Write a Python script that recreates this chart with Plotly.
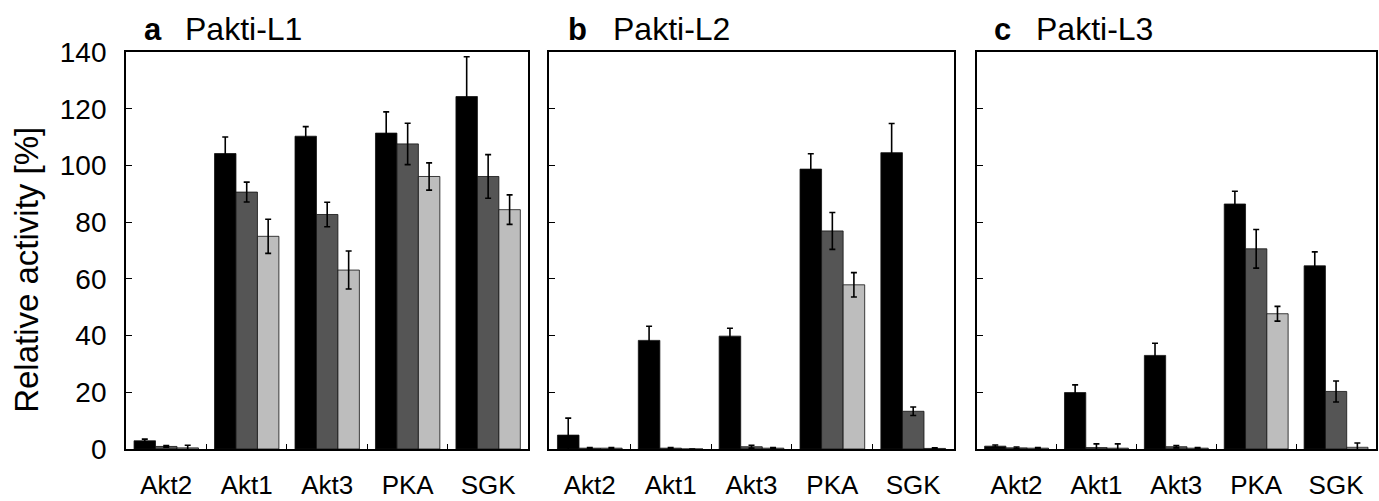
import plotly.graph_objects as go

# Kinase panel, shared by all three inhibitor panels
kinases = ["Akt2", "Akt1", "Akt3", "PKA", "SGK"]
y_ticks = [0, 20, 40, 60, 80, 100, 120, 140]

# Relative activity [%] at three inhibitor concentrations (low / mid / high)
l1_low = [2.9, 104.2, 110.3, 111.4, 124.3]
l1_mid = [0.9, 90.6, 82.7, 107.6, 96.1]
l1_high = [0.4, 75.0, 63.1, 96.1, 84.4]
l1_low_err = [0.6, 5.8, 3.4, 7.5, 14.0]
l1_mid_err = [0.3, 3.5, 4.3, 7.3, 7.7]
l1_high_err = [0.9, 6.0, 6.7, 4.8, 5.2]

l2_low = [4.9, 38.3, 39.8, 98.7, 104.5]
l2_mid = [0.3, 0.3, 0.8, 76.9, 13.3]
l2_high = [0.3, 0.0, 0.3, 57.9, 0.2]
l2_low_err = [6.0, 5.0, 2.8, 5.4, 10.3]
l2_mid_err = [0.2, 0.2, 0.5, 6.5, 1.5]
l2_high_err = [0.2, 0.0, 0.2, 4.3, 0.2]

l3_low = [1.0, 19.9, 33.0, 86.4, 64.6]
l3_mid = [0.4, 0.5, 0.8, 70.6, 20.3]
l3_high = [0.3, 0.3, 0.3, 47.7, 0.6]
l3_low_err = [0.4, 2.7, 4.3, 4.5, 4.9]
l3_mid_err = [0.3, 1.3, 0.4, 6.8, 3.7]
l3_high_err = [0.2, 1.5, 0.2, 2.6, 1.5]

panel_letters = ["a", "b", "c"]
panel_names = ["Pakti-L1", "Pakti-L2", "Pakti-L3"]

bar_colors = ["#000000", "#555555", "#bdbdbd"]
FONT = "Liberation Sans, Arial, sans-serif"

panels = [
    ([l1_low, l1_mid, l1_high], [l1_low_err, l1_mid_err, l1_high_err]),
    ([l2_low, l2_mid, l2_high], [l2_low_err, l2_mid_err, l2_high_err]),
    ([l3_low, l3_mid, l3_high], [l3_low_err, l3_mid_err, l3_high_err]),
]

domains = [[0.0, 0.3219], [0.3387, 0.6621], [0.6805, 1.0]]

fig = go.Figure()

for i, (series, errors) in enumerate(panels):
    suffix = "" if i == 0 else str(i + 1)
    for vals, errs, color in zip(series, errors, bar_colors):
        fig.add_trace(go.Bar(
            x=kinases, y=vals,
            xaxis="x" + suffix, yaxis="y" + suffix,
            marker=dict(color=color, line=dict(color="#111111", width=0.8)),
            error_y=dict(type="data", array=errs, visible=True,
                         color="#000000", thickness=1.6, width=3),
            showlegend=False,
        ))

    axis_common = dict(showline=True, linecolor="#000000", linewidth=1.8,
                       mirror=True, showgrid=False, zeroline=False)
    fig.layout["xaxis" + suffix] = dict(
        domain=domains[i], anchor="y" + suffix,
        categoryorder="array", categoryarray=kinases,
        range=[-0.5, 4.5], tickson="boundaries",
        ticks="inside", ticklen=5, tickwidth=1.2, tickcolor="#000000",
        ticklabelstandoff=12,
        tickfont=dict(family=FONT, size=26, color="#000000"),
        **axis_common)
    fig.layout["yaxis" + suffix] = dict(
        domain=[0, 1], anchor="x" + suffix,
        range=[0, 140], tickvals=y_ticks,
        ticks="inside", ticklen=6, tickwidth=1.2, tickcolor="#000000",
        showticklabels=(i == 0), ticklabelstandoff=12,
        tickfont=dict(family=FONT, size=28, color="#000000"),
        **axis_common)

    fig.add_annotation(
        xref="x%s domain" % suffix, yref="paper",
        x=[0.040, 0.042, 0.038][i], y=1.057,
        xanchor="left", yanchor="middle", showarrow=False,
        text="<b>%s</b>" % panel_letters[i],
        font=dict(family=FONT, size=31, color="#000000"))
    fig.add_annotation(
        xref="x%s domain" % suffix, yref="paper",
        x=[0.1414, 0.153, 0.1425][i], y=1.057,
        xanchor="left", yanchor="middle", showarrow=False,
        text=panel_names[i],
        font=dict(family=FONT, size=32, color="#000000"))

# Shared y-axis title
fig.add_annotation(
    xref="paper", yref="paper", x=-99 / 1252, y=0.4516,
    xanchor="center", yanchor="middle", showarrow=False,
    textangle=-90, text="Relative activity [%]",
    font=dict(family=FONT, size=33, color="#000000"))

fig.update_layout(
    width=1379, height=501,
    margin=dict(l=126, r=1, t=52, b=46),
    barmode="group", bargap=0.2, bargroupgap=0,
    plot_bgcolor="#ffffff", paper_bgcolor="#ffffff",
    font=dict(family=FONT, color="#000000"),
)

fig.write_html("out.html")
